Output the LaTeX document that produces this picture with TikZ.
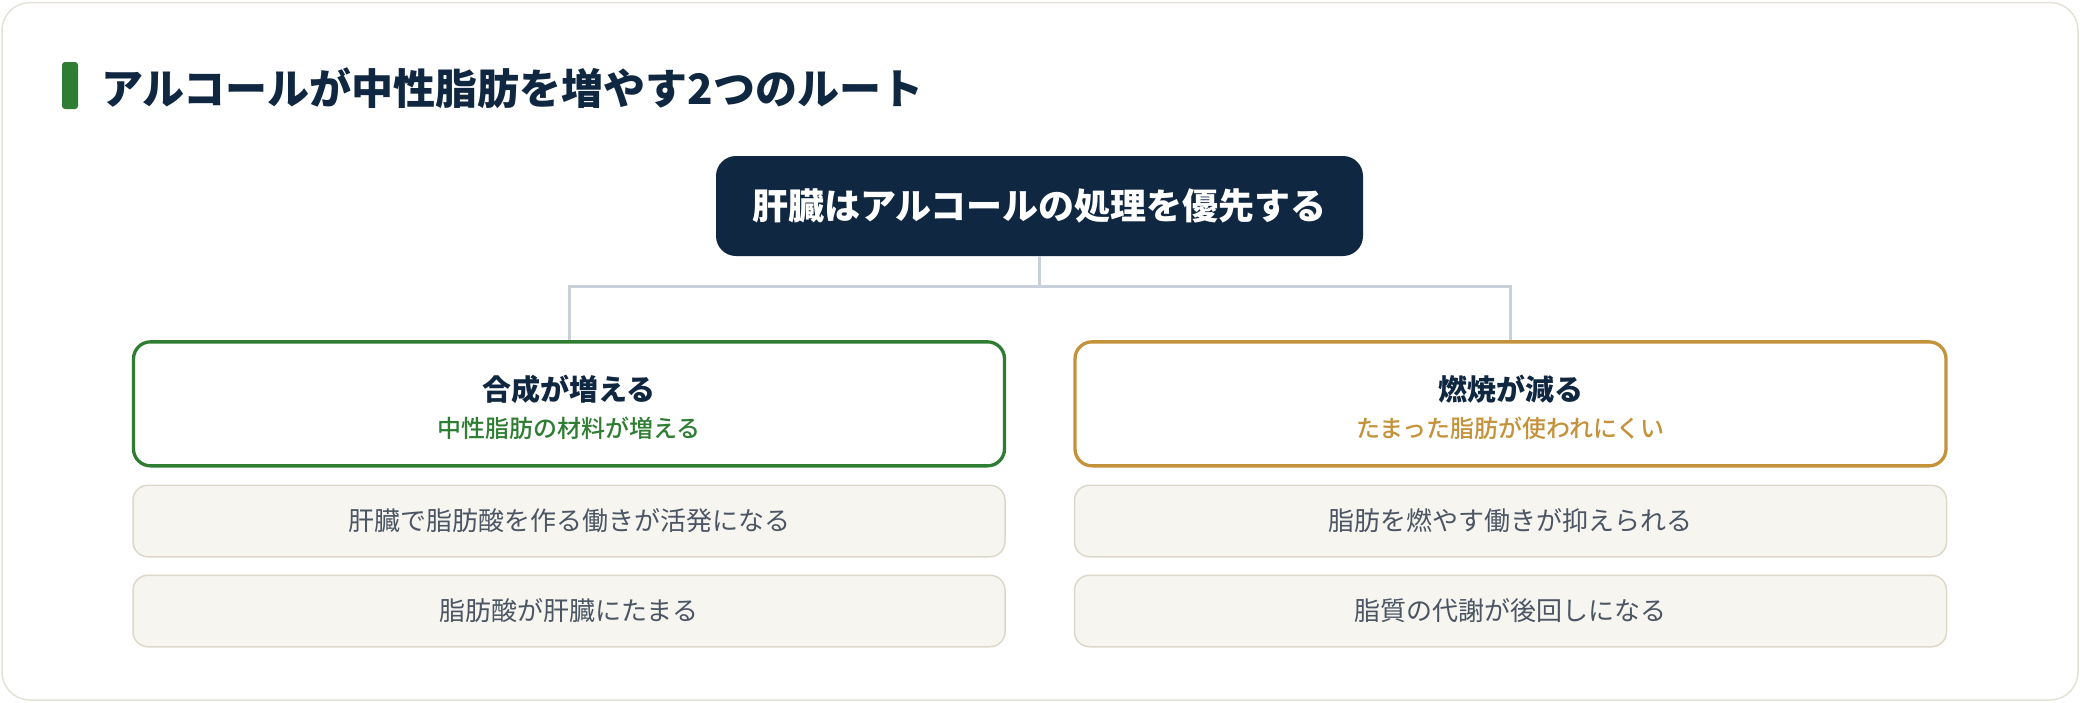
\documentclass[tikz,border=0pt]{standalone}
\usepackage{fontspec}
\setmainfont{Noto Sans CJK JP}
\newfontfamily\medfont{Noto Sans CJK JP Medium}
\usetikzlibrary{positioning}
\definecolor{navy}{HTML}{0F2740}
\definecolor{upgreen}{HTML}{2E7D32}
\definecolor{downgold}{HTML}{C4923A}
\definecolor{slate}{HTML}{4B5563}
\definecolor{leaffill}{HTML}{F6F5F0}
\definecolor{leafline}{HTML}{DDD9CA}
\definecolor{linkgray}{HTML}{C9D0DA}
\definecolor{framegray}{HTML}{E4E2D8}
\tikzset{x=1pt, y=-1pt, % one unit is one pixel, y goes down
node distance=17pt, % gap between the stacked boxes
every node/.style={inner sep=0pt},
root/.style={fill=navy, rounded corners=20pt, minimum width=647pt, minimum height=100pt, text=white, font=\bfseries\fontsize{36}{40}\selectfont},
branch/.style={draw=#1, line width=3.3pt, fill=white, rounded corners=17pt, minimum width=871pt, minimum height=124pt, align=center, text=navy, font=\medfont\fontsize{24}{37}\selectfont},
leaf/.style={draw=leafline, line width=1.5pt, fill=leaffill, rounded corners=15pt, minimum width=872pt, minimum height=71.5pt, text=slate, font=\fontsize{26}{30}\selectfont},
link/.style={draw=linkgray, line width=3pt}, % lines from the root to the two routes
}
\begin{document}
\begin{tikzpicture}
\useasboundingbox (0,0) rectangle (2080,702);
\draw[draw=framegray, line width=1.5pt, fill=white, rounded corners=28pt] (2,2.5) rectangle (2078,700);
\fill[upgreen, rounded corners=3pt] (62,62) rectangle (78,109);
\node[anchor=west, text=navy, font=\bfseries\fontsize{42}{46}\selectfont] (title) at (101,88.5) {アルコールが中性脂肪を増やす2つのルート};
\node[root] (0) at (1039.5,206) {肝臓はアルコールの処理を優先する};
\node[branch=upgreen, below=84pt of 0, xshift=-470.5pt] (1) {{\rmfamily\bfseries\fontsize{29}{37}\selectfont\rule{0pt}{32pt}合成が増える}\\{\color{upgreen}中性脂肪の材料が増える}};
\node[branch=downgold, below=84pt of 0, xshift=471pt] (2) {{\rmfamily\bfseries\fontsize{29}{37}\selectfont\rule{0pt}{32pt}燃焼が減る}\\{\color{downgold}たまった脂肪が使われにくい}};
\node[leaf, below=of 1] (3) {肝臓で脂肪酸を作る働きが活発になる};
\node[leaf, below=of 3] (4) {脂肪酸が肝臓にたまる};
\node[leaf, below=of 2] (5) {脂肪を燃やす働きが抑えられる};
\node[leaf, below=of 5] (6) {脂質の代謝が後回しになる};
\draw[link] (0.south) -- ++(0,30) -| (1.north);
\draw[link] (0.south) ++(0,30) -| (2.north);
\end{tikzpicture}
\end{document}
